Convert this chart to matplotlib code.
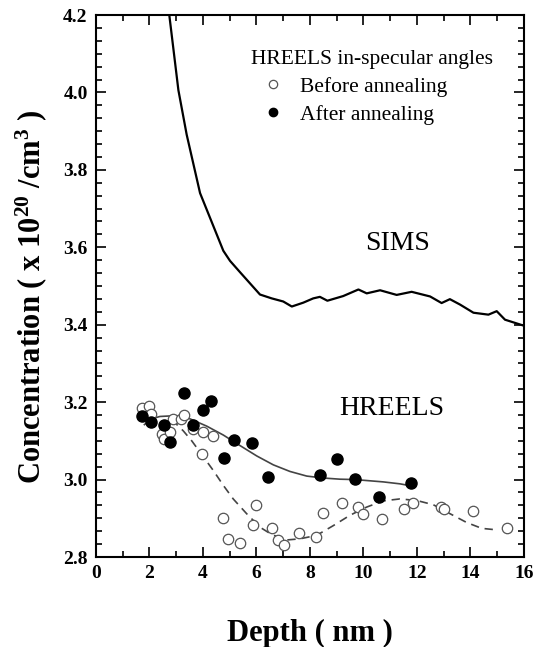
import numpy as np
import matplotlib
matplotlib.use("Agg")
import matplotlib.pyplot as plt
from matplotlib.ticker import MultipleLocator, FormatStrFormatter
from matplotlib.lines import Line2D

plt.rcParams['font.family'] = ['Liberation Serif', 'DejaVu Serif']
plt.rcParams['mathtext.default'] = 'regular'

# SIMS profile
sims_x = [2.74, 3.08, 3.39, 3.89, 4.76, 5.01, 5.38, 6.13, 6.57, 7.00, 7.32, 7.75, 8.12, 8.37,
          8.65, 9.24, 9.81, 10.12, 10.62, 11.24, 11.80, 12.49, 12.92, 13.23, 13.61, 14.11,
          14.67, 14.98, 15.29, 15.97]
sims_y = [4.20, 4.006, 3.891, 3.740, 3.591, 3.565, 3.536, 3.478, 3.468, 3.460, 3.447, 3.457,
          3.468, 3.472, 3.462, 3.474, 3.491, 3.481, 3.489, 3.477, 3.485, 3.473, 3.456, 3.466,
          3.452, 3.431, 3.426, 3.435, 3.413, 3.398]

# HREELS before annealing (open circles)
before_x = [1.71, 1.99, 2.06, 2.46, 2.54, 2.77, 2.87, 3.18, 3.30, 3.61, 4.01, 4.36, 3.95, 4.76,
            4.95, 5.38, 5.97, 5.86, 6.57, 6.81, 7.03, 7.58, 8.22, 8.50, 9.19, 9.78, 9.99, 10.68,
            11.53, 11.86, 12.90, 13.02, 14.10, 15.38]
before_y = [3.184, 3.189, 3.170, 3.119, 3.106, 3.123, 3.157, 3.157, 3.167, 3.130, 3.124, 3.113,
            3.065, 2.902, 2.847, 2.837, 2.935, 2.883, 2.874, 2.845, 2.831, 2.862, 2.852, 2.913,
            2.939, 2.929, 2.912, 2.897, 2.923, 2.940, 2.929, 2.923, 2.918, 2.875]

# HREELS after annealing (filled circles)
after_x = [1.73, 2.06, 2.54, 2.77, 3.29, 3.61, 3.99, 4.30, 5.16, 5.83, 4.79, 6.42, 8.37, 9.02,
           9.68, 10.58, 11.78]
after_y = [3.163, 3.149, 3.142, 3.097, 3.224, 3.142, 3.179, 3.202, 3.102, 3.094, 3.055, 3.006,
           3.011, 3.052, 3.002, 2.956, 2.990]

# fitted guide lines
fit_after_x = [1.81, 2.08, 2.39, 2.95, 3.51, 4.14, 4.76, 5.38, 6.01, 6.63, 7.25, 7.88, 8.50,
               9.12, 9.68, 10.74, 11.36, 11.76]
fit_after_y = [3.142, 3.157, 3.163, 3.165, 3.157, 3.138, 3.115, 3.088, 3.061, 3.038, 3.021,
               3.009, 3.004, 3.001, 3.000, 2.994, 2.989, 2.984]
fit_before_x = [2.83, 3.26, 3.58, 3.95, 4.39, 4.76, 5.13, 5.63, 6.13, 6.57, 7.13, 7.63, 8.25,
                8.87, 9.50, 10.12, 10.74, 11.36, 11.99, 12.61, 13.23, 13.86, 14.42, 14.85]
fit_before_y = [3.155, 3.126, 3.100, 3.065, 3.023, 2.985, 2.950, 2.912, 2.877, 2.858, 2.844,
                2.847, 2.856, 2.881, 2.908, 2.929, 2.945, 2.950, 2.946, 2.935, 2.912, 2.889,
                2.874, 2.871]

fig = plt.figure(figsize=(5.36, 6.47), dpi=100)
ax = fig.add_axes([0.1791, 0.1391, 0.7985, 0.8377])

ax.plot(sims_x, sims_y, color='black', lw=1.6)
ax.plot(fit_after_x, fit_after_y, color='#444444', lw=1.2)
ax.plot(fit_before_x, fit_before_y, color='#444444', lw=1.2, ls=(0, (5, 3.5)))
ax.plot(before_x, before_y, 'o', mfc='white', mec='#555555', mew=0.9, ms=7.5, ls='none')
ax.plot(after_x, after_y, 'o', color='black', ms=8, ls='none')

ax.text(11.27, 3.593, 'SIMS', fontsize=20, ha='center', va='baseline')
ax.text(11.05, 3.167, 'HREELS', fontsize=20, ha='center', va='baseline')

handles = [Line2D([], [], marker='o', ls='none', mfc='white', mec='#555555', mew=0.9, ms=6),
           Line2D([], [], marker='o', ls='none', color='black', ms=6)]
ax.legend(handles, ['Before annealing', 'After annealing'], title='HREELS in-specular angles',
          loc='upper left', bbox_to_anchor=(0.362, 0.936), frameon=False, fontsize=15.5,
          title_fontsize=15.5, alignment='left', borderpad=0, borderaxespad=0,
          handlelength=2.05, handletextpad=0.25, labelspacing=0.37)

ax.set_xlim(0, 16)
ax.set_ylim(2.8, 4.2)
ax.xaxis.set_major_locator(MultipleLocator(2))
ax.xaxis.set_minor_locator(MultipleLocator(1))
ax.yaxis.set_major_locator(MultipleLocator(0.2))
ax.yaxis.set_minor_locator(MultipleLocator(0.2 / 6))
ax.yaxis.set_major_formatter(FormatStrFormatter('%.1f'))
ax.tick_params(which='both', direction='in', top=True, right=True, width=1.2)
ax.tick_params(which='major', length=7, labelsize=14, pad=6)
ax.tick_params(which='minor', length=4)
for lab in ax.get_xticklabels() + ax.get_yticklabels():
    lab.set_fontweight('bold')
for s in ax.spines.values():
    s.set_linewidth(1.5)

ax.set_xlabel('Depth ( nm )', fontsize=22, fontweight='bold', labelpad=26)
ax.set_ylabel('Concentration ( x 10$^{20}$ /cm$^{3}$ )', fontsize=22, fontweight='bold', labelpad=10)
ax.yaxis.label.set_y(0.48)

fig.savefig('out.png', dpi=100)
